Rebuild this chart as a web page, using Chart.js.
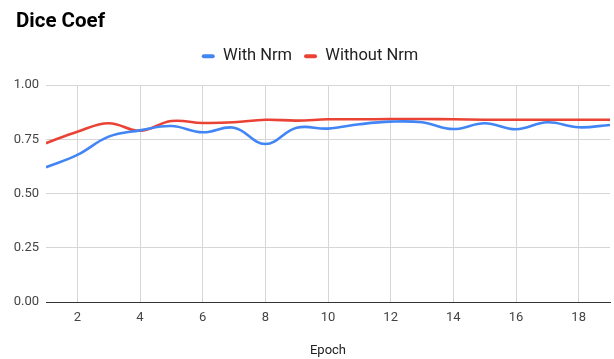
<!DOCTYPE html>
<html>
<head>
<meta charset="utf-8">
<script src="https://cdn.jsdelivr.net/npm/chart.js@4/dist/chart.umd.min.js"></script>
<style>
  html, body { margin: 0; padding: 0; background: #fff; }
  #wrap { width: 614px; height: 359px; }
</style>
</head>
<body>
<div id="wrap"><canvas id="c" width="614" height="359"></canvas></div>
<script>
// Training epochs and Dice coefficient per epoch
const epochs = [1, 2, 3, 4, 5, 6, 7, 8, 9, 10, 11, 12, 13, 14, 15, 16, 17, 18, 19];
const withNrm = [0.621, 0.678, 0.762, 0.791, 0.811, 0.782, 0.803, 0.728, 0.803, 0.799,
                 0.819, 0.831, 0.828, 0.797, 0.824, 0.796, 0.828, 0.805, 0.816];
const withoutNrm = [0.732, 0.785, 0.824, 0.789, 0.834, 0.825, 0.828, 0.840, 0.836, 0.842,
                    0.842, 0.843, 0.843, 0.842, 0.840, 0.840, 0.840, 0.840, 0.840];
const xTicks = [2, 4, 6, 8, 10, 12, 14, 16, 18];
const yTicks = [0, 0.25, 0.5, 0.75, 1];
const chartTitle = 'Dice Coef';

Chart.defaults.font.family = 'Roboto';

const toPoints = (vals) => vals.map((v, i) => ({ x: epochs[i], y: v }));

// Give the legend extra room below its row and nudge it right
const legendSpacer = {
  id: 'legendSpacer',
  beforeInit(chart) {
    const origFit = chart.legend.fit;
    chart.legend.fit = function () {
      origFit.bind(chart.legend)();
      this.height = 49;
    };
  },
  afterLayout(chart) {
    chart.legend.left += 5;
    chart.legend.right += 5;
  }
};

// Left-aligned bold heading in the top padding band
const heading = {
  id: 'heading',
  afterDraw(chart) {
    const ctx = chart.ctx;
    ctx.save();
    ctx.font = 'bold 20.5px Roboto';
    ctx.fillStyle = '#000';
    ctx.textAlign = 'left';
    ctx.textBaseline = 'alphabetic';
    ctx.fillText(chartTitle, 16, 26.5);
    ctx.restore();
  }
};

new Chart(document.getElementById('c'), {
  type: 'line',
  data: {
    datasets: [
      {
        label: 'With Nrm',
        data: toPoints(withNrm),
        borderColor: '#4285F4',
        backgroundColor: '#4285F4',
        borderWidth: 2.6,
        pointRadius: 0,
        tension: 0.4
      },
      {
        label: 'Without Nrm',
        data: toPoints(withoutNrm),
        borderColor: '#EA4335',
        backgroundColor: '#EA4335',
        borderWidth: 2.6,
        pointRadius: 0,
        tension: 0.4
      }
    ]
  },
  options: {
    responsive: false,
    animation: false,
    layout: { padding: { left: 0, right: 4, top: 36, bottom: 0 } },
    plugins: {
      title: { display: false },
      legend: {
        display: true,
        labels: {
          boxWidth: 13,
          boxHeight: 4,
          padding: 12,
          color: '#222',
          font: { size: 16.5 },
          useBorderRadius: true,
          borderRadius: 2,
          generateLabels(chart) {
            const items = Chart.defaults.plugins.legend.labels.generateLabels(chart);
            items.forEach(it => { it.lineWidth = 0; it.strokeStyle = it.fillStyle; });
            return items;
          }
        }
      },
      tooltip: { enabled: false }
    },
    scales: {
      x: {
        type: 'linear',
        min: 1,
        max: 19,
        afterBuildTicks(scale) { scale.ticks = xTicks.map(v => ({ value: v })); },
        afterFit(scale) { scale.height = 57; },
        grid: { color: '#d6d6d6', drawTicks: false, lineWidth: 1 },
        border: { display: true, color: '#333', width: 1 },
        ticks: { color: '#444', font: { size: 13 }, padding: 8, maxRotation: 0 },
        title: {
          display: true,
          text: 'Epoch',
          color: '#222',
          font: { size: 13 },
          padding: { top: 4, bottom: 0 }
        }
      },
      y: {
        min: 0,
        max: 1,
        afterBuildTicks(scale) { scale.ticks = yTicks.map(v => ({ value: v })); },
        afterFit(scale) { scale.width = 46; },
        grid: {
          color: (ctx) => (ctx.tick && ctx.tick.value === 0 ? '#333' : '#d6d6d6'),
          drawTicks: false,
          lineWidth: 1
        },
        border: { display: false },
        ticks: {
          color: '#444',
          font: { size: 13 },
          padding: 7,
          callback: (v) => Number(v).toFixed(2)
        }
      }
    }
  },
  plugins: [legendSpacer, heading]
});
</script>
</body>
</html>
